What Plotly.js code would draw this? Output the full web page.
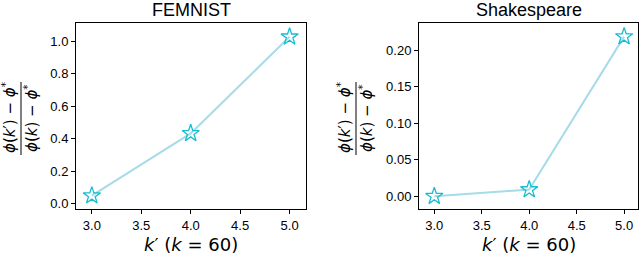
<!DOCTYPE html>
<html><head><meta charset="utf-8">
<script src="https://cdn.plot.ly/plotly-3.0.1.min.js"></script>
<style>body{margin:0;padding:0;background:#fff}#c{width:640px;height:255px}</style>
</head><body><div id="c"></div>
<script>
const kPrime = [3.0, 4.0, 5.0];
const femnist = [0.049, 0.433, 1.028];
const shakespeare = [0.0, 0.0092, 0.219];
const titles = ["FEMNIST", "Shakespeare"];
const femnistTicks = [0.0, 0.2, 0.4, 0.6, 0.8, 1.0];
const shakeTicks = [0.00, 0.05, 0.10, 0.15, 0.20];
const xTicks = [3.0, 3.5, 4.0, 4.5, 5.0];

const W = 640, H = 255;
const px = x => x / W, py = y => 1 - y / H;
const FONT = "Liberation Sans, Arial, Helvetica, sans-serif";
const MATH = "DejaVu Sans, sans-serif";
const lineColor = "#a6dbe8", markColor = "#17becf";

function trace(y, xa, ya) {
  return {x: kPrime, y: y, xaxis: xa, yaxis: ya, type: "scatter", mode: "lines+markers",
    line: {color: lineColor, width: 2},
    marker: {symbol: "star-open", size: 13, color: markColor, line: {width: 1.3, color: markColor}},
    showlegend: false, hoverinfo: "none"};
}
const axBase = {showgrid: false, zeroline: false, showline: true, mirror: true, linecolor: "#000", linewidth: 1,
  ticks: "outside", ticklen: 4, tickwidth: 1, tickcolor: "#000", tickfont: {family: FONT, size: 13, color: "#000"}};

const frames = [[76, 306], [419, 638]];
const yTop = 23, yBot = 209;

const layout = {
  width: W, height: H, margin: {l: 0, r: 0, t: 0, b: 0}, paper_bgcolor: "#fff", plot_bgcolor: "#fff",
  xaxis: Object.assign({}, axBase, {domain: [px(76), px(306)], range: [2.84, 5.166], tickvals: xTicks, ticktext: xTicks.map(v => v.toFixed(1)), anchor: "y"}),
  yaxis: Object.assign({}, axBase, {domain: [py(yBot), py(yTop)], range: [-0.033, 1.113], tickvals: femnistTicks, ticktext: femnistTicks.map(v => v.toFixed(1)), anchor: "x"}),
  xaxis2: Object.assign({}, axBase, {domain: [px(419), px(638)], range: [2.839, 5.146], tickvals: xTicks, ticktext: xTicks.map(v => v.toFixed(1)), anchor: "y2"}),
  yaxis2: Object.assign({}, axBase, {domain: [py(yBot), py(yTop)], range: [-0.0175, 0.2377], tickvals: shakeTicks, ticktext: shakeTicks.map(v => v.toFixed(2)), anchor: "x2"}),
  annotations: [], shapes: []
};

const num = "<i>ϕ</i>(<i>k</i>′)&nbsp;−&nbsp;<i>ϕ</i><sup>*</sup>";
const den = "<i>ϕ</i>(<i>k</i>)&nbsp;−&nbsp;<i>ϕ</i><sup>*</sup>";
const xt = "<i>k</i>′ (<i>k</i> = 60)";
const labelX = [[9, 21, 31], [344, 356, 366]];

frames.forEach((f, i) => {
  const cx = (f[0] + f[1]) / 2;
  layout.annotations.push({text: titles[i], xref: "paper", yref: "paper", x: px(cx), y: py(10), xanchor: "center", yanchor: "middle", showarrow: false, font: {family: FONT, size: 18, color: "#000"}});
  layout.annotations.push({text: xt, xref: "paper", yref: "paper", x: px(cx), y: py(244), xanchor: "center", yanchor: "middle", showarrow: false, font: {family: MATH, size: 18, color: "#000"}});
  const L = labelX[i];
  layout.annotations.push({text: num, xref: "paper", yref: "paper", x: px(L[0]), y: py(118), xanchor: "center", yanchor: "middle", textangle: -90, showarrow: false, font: {family: MATH, size: 15, color: "#000"}});
  layout.annotations.push({text: den, xref: "paper", yref: "paper", x: px(L[2]), y: py(118), xanchor: "center", yanchor: "middle", textangle: -90, showarrow: false, font: {family: MATH, size: 15, color: "#000"}});
  layout.shapes.push({type: "line", xref: "paper", yref: "paper", x0: px(L[1]), x1: px(L[1]), y0: py(82), y1: py(155), line: {color: "#000", width: 1}});
});

Plotly.newPlot("c", [trace(femnist, "x", "y"), trace(shakespeare, "x2", "y2")], layout, {staticPlot: true, displayModeBar: false});
</script></body></html>
